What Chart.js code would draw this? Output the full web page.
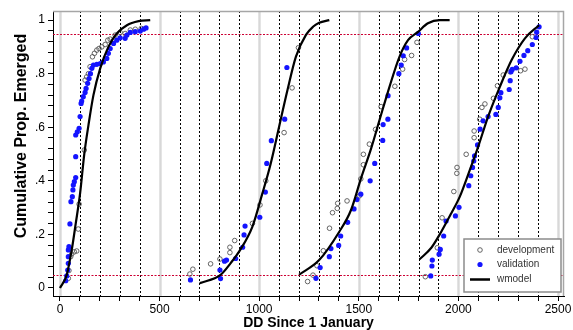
<!DOCTYPE html>
<html>
<head>
<meta charset="utf-8">
<script src="https://cdn.jsdelivr.net/npm/chart.js@4.4.0/dist/chart.umd.min.js"></script>
<style>
  html, body { margin: 0; padding: 0; background: #fff; }
  #wrap { width: 573px; height: 330px; }
</style>
</head>
<body>
<div id="wrap"><canvas id="emergeChart" width="573" height="330"></canvas></div>
<script>
// [DD, cumulative proportion], one array per season
const dev1 = [[42,0.036],[45,0.065],[54,0.117],[59,0.127],[72,0.135],[84,0.138],[92,0.22],[96,0.313],[122,0.515],
  [126,0.776],[134,0.788],[143,0.80],[151,0.826],[163,0.863],[173,0.876],[185,0.888],[196,0.894],[210,0.90],
  [227,0.909],[240,0.925],[252,0.929],[277,0.944],[302,0.954],[327,0.95],[353,0.963],[378,0.966],[408,0.969]];
const val1 = [[29,0.027],[34,0.045],[39,0.067],[42,0.092],[42,0.117],[42,0.142],[45,0.154],[50,0.239],[55,0.322],
  [62,0.341],[65,0.366],[67,0.384],[72,0.397],[79,0.412],[79,0.49],[79,0.571],[87,0.583],[96,0.596],[101,0.64],
  [106,0.689],[109,0.698],[117,0.714],[126,0.73],[131,0.745],[139,0.764],[146,0.782],[153,0.80],[160,0.82],
  [168,0.832],[185,0.835],[202,0.838],[218,0.844],[235,0.857],[243,0.876],[252,0.894],[269,0.913],[285,0.925],
  [302,0.934],[327,0.932],[336,0.944],[353,0.954],[378,0.957],[403,0.959],[420,0.966],[432,0.971]];
const dev2 = [[652,0.052],[667,0.07],[756,0.09],[803,0.108],[853,0.132],[853,0.152],[877,0.177],[966,0.241],
  [1004,0.31],[1033,0.40],[1125,0.58],[1165,0.747],[1197,0.897]];
const val2 = [[655,0.030],[803,0.067],[806,0.035],[826,0.10],[836,0.104],[882,0.11],[917,0.152],[924,0.198],
  [929,0.231],[1003,0.264],[1031,0.358],[1038,0.465],[1061,0.55],[1128,0.63],[1139,0.823]];
const dev3 = [[1243,0.024],[1270,0.048],[1290,0.083],[1322,0.139],[1353,0.223],[1368,0.281],[1392,0.297],
  [1394,0.316],[1441,0.325],[1503,0.344],[1510,0.407],[1523,0.46],[1523,0.499],[1553,0.537],[1584,0.592],
  [1612,0.677],[1681,0.753],[1720,0.817],[1730,0.853],[1765,0.868],[1792,0.917]];
const val3 = [[1285,0.036],[1306,0.076],[1352,0.117],[1360,0.147],[1399,0.159],[1409,0.194],[1444,0.245],
  [1476,0.295],[1491,0.33],[1510,0.35],[1557,0.40],[1580,0.465],[1620,0.551],[1622,0.61],[1646,0.63],
  [1647,0.718],[1701,0.80],[1713,0.832],[1723,0.867],[1740,0.896],[1799,0.95]];
const dev4 = [[1834,0.042],[1894,0.15],[1918,0.262],[1977,0.36],[1992,0.428],[1993,0.45],[2039,0.499],
  [2079,0.561],[2079,0.586],[2107,0.63],[2118,0.674],[2133,0.687],[2176,0.708],[2196,0.755],[2225,0.795],
  [2259,0.807],[2312,0.811],[2334,0.817],[2371,0.938]];
const val4 = [[1861,0.045],[1867,0.082],[1869,0.104],[1903,0.126],[1909,0.144],[1926,0.194],[1938,0.25],
  [1985,0.269],[2003,0.301],[2052,0.382],[2062,0.419],[2071,0.45],[2077,0.474],[2081,0.493],[2096,0.534],
  [2109,0.593],[2124,0.624],[2149,0.64],[2188,0.648],[2200,0.674],[2208,0.71],[2213,0.729],[2255,0.741],
  [2260,0.774],[2264,0.807],[2270,0.816],[2290,0.822],[2309,0.846],[2329,0.868],[2348,0.886],[2371,0.909],
  [2390,0.935],[2393,0.955],[2405,0.975]];

// fitted model curves
const wm1 = [[0,0],[34,0.049],[59,0.142],[79,0.24],[101,0.353],[122,0.5],[143,0.608],[168,0.72],[202,0.82],
  [243,0.90],[285,0.95],[336,0.981],[395,0.996],[453,1.0]];
const wm2 = [[702,0.018],[806,0.049],[856,0.092],[907,0.145],[966,0.229],[1016,0.353],[1058,0.465],[1100,0.602],
  [1142,0.739],[1184,0.863],[1234,0.944],[1270,0.975],[1301,0.99],[1352,1.0]];
const wm3 = [[1200,0.049],[1301,0.104],[1402,0.21],[1461,0.291],[1511,0.409],[1562,0.521],[1604,0.627],
  [1654,0.751],[1704,0.863],[1747,0.925],[1797,0.956],[1847,0.988],[1906,1.0],[1956,1.0]];
const wm4 = [[1805,0.107],[1864,0.15],[1914,0.21],[1965,0.28],[2007,0.341],[2057,0.44],[2099,0.527],[2149,0.64],
  [2208,0.751],[2267,0.851],[2334,0.932],[2405,0.981]];

const refLevels = [0.05, 0.95];
const seriesNames = ['development', 'validation', 'wmodel'];
const yTitle = 'Cumulative Prop. Emerged';

const toXY = arr => arr.map(p => ({ x: p[0], y: p[1] }));
const BLUE = '#1414ff';
const FONT = '"Liberation Sans", Arial, sans-serif';

// vertical guide lines + red reference levels, drawn from the scales
const guides = {
  id: 'guides',
  beforeDatasetsDraw(chart) {
    const { ctx, chartArea: a, scales: { x, y } } = chart;
    ctx.save();
    x.ticks.forEach(t => {
      const px = x.getPixelForValue(t.value);
      if (px < a.left + 1 || px > a.right) return;
      ctx.beginPath();
      if (Math.round(t.value) % 500 === 0) {
        ctx.setLineDash([]);
        ctx.strokeStyle = '#d8d8d8';
        ctx.lineWidth = 2.4;
      } else {
        ctx.setLineDash([2, 2]);
        ctx.strokeStyle = '#000';
        ctx.lineWidth = 1;
      }
      ctx.moveTo(Math.round(px) + 0.5, a.top);
      ctx.lineTo(Math.round(px) + 0.5, a.bottom);
      ctx.stroke();
    });
    ctx.setLineDash([2, 1.5]);
    ctx.strokeStyle = '#cc0033';
    ctx.lineWidth = 1;
    refLevels.forEach(v => {
      const py = Math.round(y.getPixelForValue(v)) + 0.5;
      ctx.beginPath();
      ctx.moveTo(a.left, py);
      ctx.lineTo(a.right, py);
      ctx.stroke();
    });
    ctx.restore();
  },
  afterDraw(chart) {
    const { ctx, chartArea: a } = chart;
    ctx.save();
    // grey frame on top / right
    ctx.strokeStyle = '#a6a6a6';
    ctx.lineWidth = 1.5;
    ctx.beginPath();
    ctx.moveTo(a.left, a.top + 0.5);
    ctx.lineTo(a.right - 0.5, a.top + 0.5);
    ctx.lineTo(a.right - 0.5, a.bottom);
    ctx.stroke();

    // y axis title (sits a little above the axis centre in the original)
    ctx.save();
    ctx.translate(22, 136);
    ctx.rotate(-Math.PI / 2);
    ctx.font = 'bold 16px ' + FONT;
    ctx.fillStyle = '#000';
    ctx.textAlign = 'center';
    ctx.textBaseline = 'middle';
    ctx.fillText(yTitle, 0, 0);
    ctx.restore();

    // legend box
    const bx = a.right - 100, by = a.bottom - 57, bw = 97, bh = 53;
    ctx.fillStyle = '#fff';
    ctx.fillRect(bx, by, bw, bh);
    ctx.strokeStyle = '#8c8c8c';
    ctx.lineWidth = 1.5;
    ctx.strokeRect(bx, by, bw, bh);
    const sx = bx + 16, tx = bx + 33;
    const rows = [by + 11, by + 25.5, by + 40.5];
    ctx.font = '10px ' + FONT;
    ctx.fillStyle = '#333';
    ctx.textBaseline = 'middle';
    seriesNames.forEach((n, i) => ctx.fillText(n, tx, rows[i]));
    ctx.beginPath();
    ctx.arc(sx, rows[0], 2.3, 0, Math.PI * 2);
    ctx.strokeStyle = '#555';
    ctx.lineWidth = 0.9;
    ctx.stroke();
    ctx.beginPath();
    ctx.arc(sx, rows[1], 2.6, 0, Math.PI * 2);
    ctx.fillStyle = BLUE;
    ctx.fill();
    ctx.beginPath();
    ctx.moveTo(sx - 10, rows[2]);
    ctx.lineTo(sx + 10, rows[2]);
    ctx.strokeStyle = '#000';
    ctx.lineWidth = 2.5;
    ctx.stroke();
    ctx.restore();
  }
};

const curveStyle = {
  showLine: true,
  borderColor: '#000',
  borderWidth: 2.2,
  pointRadius: 0,
  cubicInterpolationMode: 'monotone',
  fill: false
};

const ctx = document.getElementById('emergeChart');
new Chart(ctx.getContext('2d'), {
  type: 'scatter',
  data: {
    datasets: [
      Object.assign({ label: seriesNames[2], data: toXY(wm1) }, curveStyle),
      Object.assign({ label: seriesNames[2], data: toXY(wm2) }, curveStyle),
      Object.assign({ label: seriesNames[2], data: toXY(wm3) }, curveStyle),
      Object.assign({ label: seriesNames[2], data: toXY(wm4) }, curveStyle),
      {
        label: seriesNames[1],
        data: toXY(val1.concat(val2, val3, val4)),
        pointRadius: 2.6,
        backgroundColor: BLUE,
        borderColor: BLUE,
        borderWidth: 0
      },
      {
        label: seriesNames[0],
        data: toXY(dev1.concat(dev2, dev3, dev4)),
        pointRadius: 2.3,
        backgroundColor: 'rgba(0,0,0,0)',
        borderColor: '#555',
        borderWidth: 0.9
      }
    ]
  },
  options: {
    responsive: false,
    animation: false,
    layout: { padding: { top: 11, right: 9, left: 0, bottom: 0 } },
    plugins: {
      legend: { display: false },
      tooltip: { enabled: false }
    },
    scales: {
      x: {
        type: 'linear',
        min: -35,
        max: 2530,
        afterFit: s => { s.height = 34; },
        ticks: {
          stepSize: 100,
          autoSkip: false,
          maxRotation: 0,
          includeBounds: false,
          padding: 1,
          color: '#000',
          font: { family: FONT, size: 12 },
          callback: v => (Math.round(v) % 500 === 0 ? String(Math.round(v)) : '')
        },
        grid: { drawOnChartArea: false, drawTicks: true, tickLength: 5, tickColor: '#000' },
        border: { color: '#000', width: 1 },
        title: {
          display: true,
          text: 'DD Since 1 January',
          color: '#000',
          font: { family: FONT, size: 14, weight: 'bold' },
          padding: { top: 0, bottom: -2 }
        }
      },
      y: {
        min: -0.03,
        max: 1.034,
        afterFit: s => { s.width = 53; },
        ticks: {
          stepSize: 0.04,
          autoSkip: false,
          includeBounds: false,
          padding: 3,
          color: '#000',
          font: { family: FONT, size: 12 },
          callback: v => {
            const k = Math.round(v * 100);
            if (k % 20 !== 0) return '';
            if (k === 0) return '0';
            if (k === 100) return '1';
            return '.' + (k / 10);
          }
        },
        grid: { drawOnChartArea: false, drawTicks: true, tickLength: 5, tickColor: '#000' },
        border: { color: '#000', width: 1 },
        title: { display: false }
      }
    }
  },
  plugins: [guides]
});
</script>
</body>
</html>
